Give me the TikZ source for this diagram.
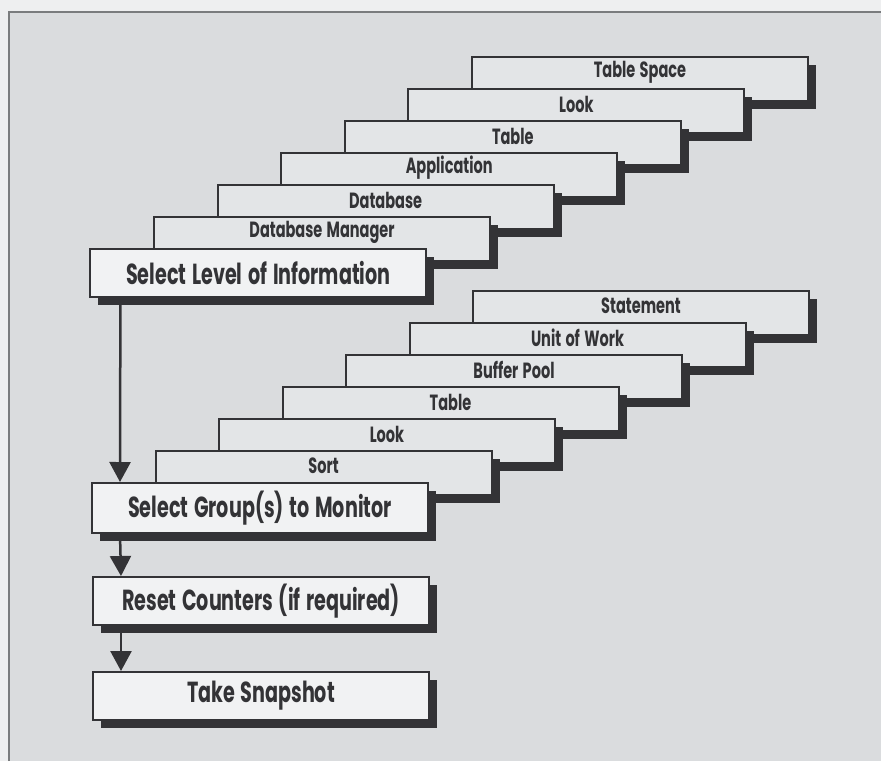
\documentclass[tikz,border=0pt]{standalone}
\usepackage{fontspec}
\newfontfamily\lblfont{Poppins}[FakeStretch=0.66, BoldFont={* Bold}, WordSpace=1.4]
\usetikzlibrary{shadows,arrows.meta}

\definecolor{pagebg}{HTML}{EEEFF0}
\definecolor{panelbg}{HTML}{DADCDE}
\definecolor{cardbg}{HTML}{E3E5E7}
\definecolor{frontbg}{HTML}{F1F2F3}
\definecolor{ink}{HTML}{333336}
\definecolor{framegray}{HTML}{7A7C7E}

\tikzset{
  shadowed/.style={drop shadow={shadow xshift=8pt, shadow yshift=-8pt, fill=ink, opacity=1}},
  card/.style={draw=ink, line width=2pt, fill=cardbg, shadowed, anchor=north west,
    minimum width=336pt, minimum height=44pt, inner sep=0pt},
  front/.style={draw=ink, line width=2pt, fill=frontbg, shadowed, anchor=north west,
    minimum width=336pt, minimum height=48pt, inner sep=0pt, text=ink,
    font=\lblfont\bfseries\fontsize{29}{32}\selectfont},
  cardlbl/.style={text=ink, inner sep=0pt, font=\lblfont\bfseries\fontsize{22}{26}\selectfont},
  flow/.style={draw=ink, line width=2.5pt, -{Triangle[width=21pt,length=20pt]}}
}

\begin{document}
\begin{tikzpicture}[x=1pt, y=-1pt]
\useasboundingbox (0,0) rectangle (881,761);
\fill[pagebg] (0,0) rectangle (881,761);
\fill[panelbg] (9,12) rectangle (881,761);
\draw[framegray, line width=1.5pt] (9,761) -- (9,12) -- (881,12);

% levels of information, back to front
\node[card] (ts) at (471,56) {};
\node[cardlbl] (ts-t) at ([yshift=-16pt]ts.north) {Table Space};
\node[card] (lk1) at (407.4,88) {};
\node[cardlbl] (lk1-t) at ([yshift=-16pt]lk1.north) {Look};
\node[card] (tb1) at (343.8,120) {};
\node[cardlbl] (tb1-t) at ([yshift=-16pt]tb1.north) {Table};
\node[card] (app) at (280.2,152) {};
\node[cardlbl] (app-t) at ([yshift=-16pt]app.north) {Application};
\node[card] (db) at (216.6,184) {};
\node[cardlbl] (db-t) at ([yshift=-16pt]db.north) {Database};
\node[card] (dbm) at (153,216) {};
\node[cardlbl] (dbm-t) at ([yshift=-16pt]dbm.north) {Database Manager};
\node[front] (sel) at (89.4,248) {Select Level of Information};

% monitor groups, back to front
\node[card] (st) at (472,290) {};
\node[cardlbl] (st-t) at ([yshift=-16pt]st.north) {Statement};
\node[card] (uow) at (408.5,322) {};
\node[cardlbl] (uow-t) at ([yshift=-16pt]uow.north) {Unit of Work};
\node[card] (bp) at (345,354) {};
\node[cardlbl] (bp-t) at ([yshift=-16pt]bp.north) {Buffer Pool};
\node[card] (tb2) at (281.5,386) {};
\node[cardlbl] (tb2-t) at ([yshift=-16pt]tb2.north) {Table};
\node[card] (lk2) at (218,418) {};
\node[cardlbl] (lk2-t) at ([yshift=-16pt]lk2.north) {Look};
\node[card] (srt) at (154.5,450) {};
\node[cardlbl] (srt-t) at ([yshift=-16pt]srt.north) {Sort};
\node[front, minimum height=50pt] (grp) at (91,482) {Select Group(s) to Monitor};

% remaining steps
\node[front] (rst) at (92,576) {Reset Counters (if required)};
\node[front] (snap) at (92,671) {Take Snapshot};

% flow between steps
\draw[flow] ([xshift=31pt]sel.south west) -- ([xshift=29pt]grp.north west);
\draw[flow] ([xshift=29pt]grp.south west) -- ([xshift=29pt]rst.north west);
\draw[flow] ([xshift=29pt]rst.south west) -- ([xshift=29pt]snap.north west);
\end{tikzpicture}
\end{document}
